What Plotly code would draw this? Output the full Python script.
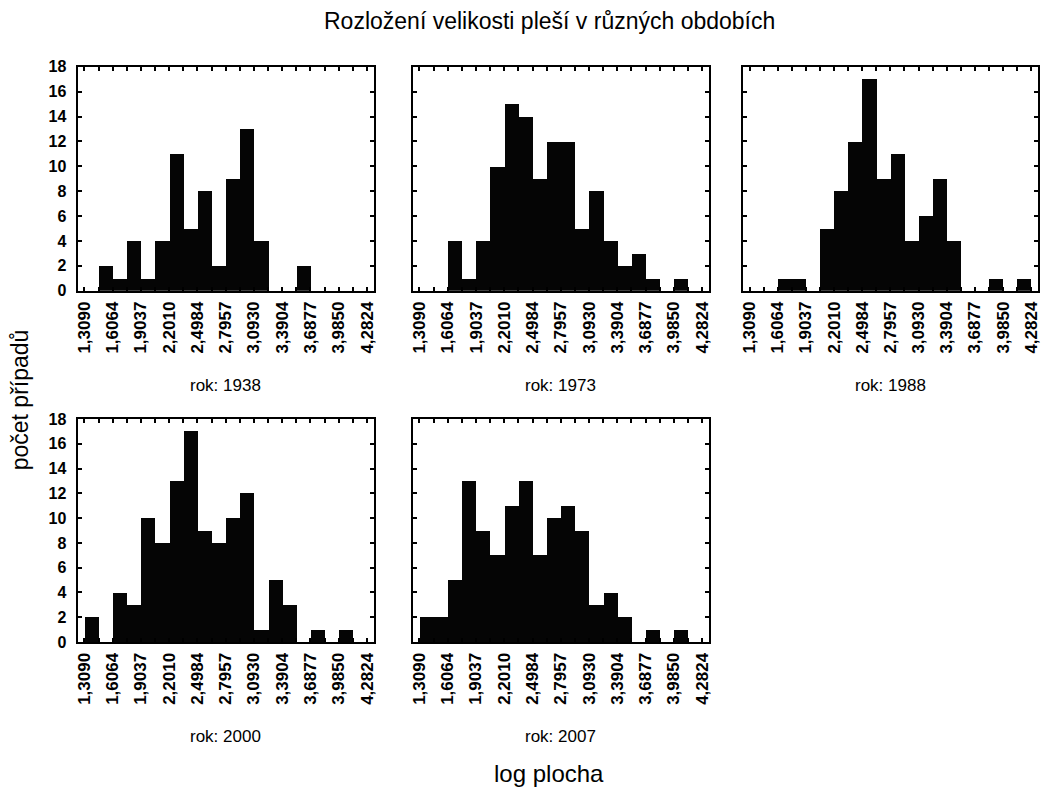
import plotly.graph_objects as go

# Class boundaries shown on the x axis (every second bin edge is labelled)
TICK_LABELS = ["1,3090", "1,6064", "1,9037", "2,2010", "2,4984", "2,7957",
               "3,0930", "3,3904", "3,6877", "3,9850", "4,2824"]

YEARS = ["1938", "1973", "1988", "2000", "2007"]

# Counts per bin (20 bins between 1,3090 and 4,2824)
COUNTS_1938 = [0, 2, 1, 4, 1, 4, 11, 5, 8, 2, 9, 13, 4, 0, 0, 2, 0, 0, 0, 0]
COUNTS_1973 = [0, 0, 4, 1, 4, 10, 15, 14, 9, 12, 12, 5, 8, 4, 2, 3, 1, 0, 1, 0]
COUNTS_1988 = [0, 0, 1, 1, 0, 5, 8, 12, 17, 9, 11, 4, 6, 9, 4, 0, 0, 1, 0, 1]
COUNTS_2000 = [2, 0, 4, 3, 10, 8, 13, 17, 9, 8, 10, 12, 1, 5, 3, 0, 1, 0, 1, 0]
COUNTS_2007 = [2, 2, 5, 13, 9, 7, 11, 13, 7, 10, 11, 9, 3, 4, 2, 0, 1, 0, 1, 0]

SERIES = [COUNTS_1938, COUNTS_1973, COUNTS_1988, COUNTS_2000, COUNTS_2007]

W, H = 1042, 791
FONT = "Liberation Sans, Arial, sans-serif"

label_vals = [float(s.replace(",", ".")) for s in TICK_LABELS]
step = (label_vals[-1] - label_vals[0]) / ((len(TICK_LABELS) - 1) * 2)
edges = [label_vals[0] + k * step for k in range(2 * (len(TICK_LABELS) - 1) + 1)]
centers = [e + step / 2 for e in edges[:-1]]
edge_text = ["<b>%s</b>" % TICK_LABELS[k // 2] if k % 2 == 0 else ""
             for k in range(len(edges))]
y_vals = list(range(0, 19, 2))
y_text = ["<b>%d</b>" % v for v in y_vals]

pad = 0.072
x_range = [edges[0] - pad, edges[-1] + pad]

# panel frames in pixels: (left, right, top, bottom)
panels = [
    (75, 373, 60, 289),
    (412, 710, 60, 289),
    (744, 1041, 60, 289),
    (75, 373, 420, 648),
    (412, 710, 420, 648),
]

fig = go.Figure()
layout = dict(
    width=W, height=H,
    margin=dict(l=0, r=0, t=0, b=0),
    paper_bgcolor="white", plot_bgcolor="white",
    showlegend=False, bargap=0,
    font=dict(family=FONT, color="black"),
)

annotations = []
for i, (counts, (l, r, t, b)) in enumerate(zip(SERIES, panels)):
    n = "" if i == 0 else str(i + 1)
    fig.add_trace(go.Bar(
        x=centers, y=counts, width=step,
        marker=dict(color="#050505", line=dict(width=0)),
        xaxis="x" + n, yaxis="y" + n,
    ))
    layout["xaxis" + n] = dict(
        domain=[l / W, r / W], anchor="y" + n,
        range=x_range, tickmode="array", tickvals=edges, ticktext=edge_text,
        tickangle=-90, ticks="inside", ticklen=4, tickwidth=2, tickcolor="black",
        showline=True, linecolor="black", linewidth=2, mirror="ticks",
        showgrid=False, zeroline=False, ticklabelstandoff=2,
        tickfont=dict(size=17, family=FONT, color="black"),
    )
    layout["yaxis" + n] = dict(
        domain=[1 - b / H, 1 - t / H], anchor="x" + n,
        range=[0, 18], tickmode="array", tickvals=y_vals, ticktext=y_text,
        ticks="inside", ticklen=4, tickwidth=2, tickcolor="black",
        showline=True, linecolor="black", linewidth=2, mirror="ticks",
        showgrid=False, zeroline=False, ticklabelstandoff=6,
        showticklabels=(i in (0, 3)),
        tickfont=dict(size=16, family=FONT, color="black"),
    )
    annotations.append(dict(
        text="rok: " + YEARS[i], x=(l + r) / 2 / W, y=1 - (b + 97) / H,
        xref="paper", yref="paper", showarrow=False,
        xanchor="center", yanchor="middle",
        font=dict(size=17, family=FONT, color="black"),
    ))

annotations += [
    dict(text="Rozložení velikosti pleší v různých obdobích",
         x=550 / W, y=1 - 13 / H, xref="paper", yref="paper", showarrow=False,
         xanchor="center", yanchor="middle",
         font=dict(size=23, family=FONT, color="black")),
    dict(text="log plocha", x=549 / W, y=1 - 782 / H, xref="paper", yref="paper",
         showarrow=False, xanchor="center", yanchor="middle",
         font=dict(size=24, family=FONT, color="black")),
    dict(text="počet případů", x=18 / W, y=1 - 400 / H, xref="paper", yref="paper",
         showarrow=False, xanchor="center", yanchor="middle", textangle=-90,
         font=dict(size=23, family=FONT, color="black")),
]
layout["annotations"] = annotations

fig.update_layout(**layout)
fig.write_html("out.html")
